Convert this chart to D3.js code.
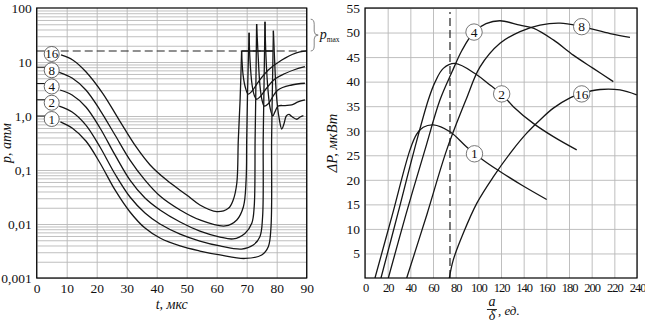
<!DOCTYPE html>
<html><head><meta charset="utf-8">
<script src="https://cdn.jsdelivr.net/npm/d3@7"></script>
<style>
body{margin:0;background:#fff}
svg text{font-family:"Liberation Serif","DejaVu Serif","Noto Serif","Times New Roman",serif !important;fill:#111}
</style>
</head><body>
<svg id="c" width="645" height="322" font-family="Liberation Serif, DejaVu Serif, serif"></svg>
<script>
// ---------- DATA ----------
// Left chart: p (атм) vs t (мкс), log scale
const tTicks = [0,10,20,30,40,50,60,70,80,90];
const pTicks = [0.001,0.01,0.1,1,10,100];
const pTickLabels = ["0,001","0,01","0,1","1,0","10","100"];
const seriesNames = ["16","8","4","2","1"];
const pLevels = [16,8,4,2,1];
const pMax = 16;
const capSegment = [68.3,78.9];     // t-range of solid p_max segment
const braceRange = [16,62];         // p range marked by brace

const fall16 = [[8.1,13.5],[12.0,10.9],[16.4,6.6],[22.0,2.63],[27.5,0.84],[33.1,0.27],[37.8,0.124],[43.3,0.065],[50.0,0.0344],[54.4,0.0225],[60.0,0.0169],[63.9,0.0195],[65.5,0.0278],[66.7,0.0568],[67.2,0.36],[67.8,1.98],[68.3,16]];
const recover16 = [[68.3,16],[68.8,5.7],[69.6,3.3],[70.5,2.55],[71.8,2.9],[73.9,4.3],[77.2,7.1],[81.7,10.9],[86.1,14.5],[90,16]];

const fall8 = [[7.5,6.44],[11.8,5.05],[16.4,3.03],[21.1,1.29],[26.1,0.445],[31.1,0.153],[36.1,0.065],[41.1,0.033],[47.8,0.0182],[54.4,0.0119],[62.8,0.0092],[66.7,0.0119],[68.9,0.0209],[69.8,0.065],[70.0,0.36],[70.3,3.03],[70.8,34.9]];
const recover8 = [[70.8,34.9],[71.1,10.9],[71.8,3.75],[72.6,2.35],[73.3,2.04],[74.4,2.25],[76.4,3.16],[79.4,4.84],[82.8,6.12],[86.1,7.26],[89.4,8.18]];

const fall4 = [[7.8,3.03],[11.8,2.45],[16.4,1.47],[21.1,0.60],[26.1,0.19],[31.1,0.065],[36.1,0.0303],[41.1,0.0182],[47.8,0.0109],[54.4,0.0074],[61.1,0.00574],[65.5,0.0053],[69.4,0.0067],[71.7,0.0103],[72.5,0.021],[72.8,0.36],[73.0,1.98],[73.3,50.6]];
const recover4 = [[73.3,50.6],[73.8,13.5],[74.4,3.75],[75.1,1.98],[75.9,1.53],[77.1,1.67],[80.4,3.03],[85.0,3.75],[89.4,4.04]];

const fall2 = [[7.5,1.53],[11.8,1.19],[16.4,0.68],[21.1,0.267],[26.1,0.0844],[31.1,0.0316],[36.1,0.016],[41.1,0.01],[47.8,0.0065],[54.4,0.00484],[61.1,0.00392],[68.3,0.00344],[72.2,0.0041],[74.4,0.00582],[75.3,0.0136],[75.5,0.36],[75.7,1.98],[76.1,55.7]];
const recover2 = [[76.1,55.7],[76.4,13.5],[77.1,3.03],[77.8,1.41],[78.7,1.0],[79.4,1.19],[80.5,1.53],[82.8,1.56],[85.0,1.6],[87.1,1.82],[89.4,1.98]];

const fall1 = [[7.9,0.78],[11.8,0.60],[16.4,0.344],[21.1,0.135],[26.1,0.0427],[31.1,0.0167],[36.1,0.0084],[41.1,0.0055],[47.8,0.00392],[54.4,0.00316],[61.1,0.00267],[69.4,0.0023],[75.0,0.00267],[77.2,0.0038],[78.1,0.0089],[78.3,0.36],[78.5,1.98],[78.9,38]];
const recover1 = [[78.9,38],[79.3,10.9],[79.9,2.45],[80.8,0.92],[81.7,0.574],[82.4,0.71],[83.2,1.0],[84.1,1.07],[85.0,0.98],[86.7,0.87],[87.8,0.96],[88.9,1.02]];

// Right chart: ΔP (мкВт) vs a/δ
const aTicks = [0,20,40,60,80,100,120,140,160,180,200,220,240];
const dpTicks = [5,10,15,20,25,30,35,40,45,50,55];
const aDashed = 75;

const dp1 = [[8.8,0],[23.8,12.6],[39.7,26.1],[45.6,29.3],[51.4,30.7],[60.3,31.2],[75.0,29.8],[89.7,26.7],[104.4,24.0],[119.1,21.7],[138.5,18.9],[160.3,16.0]];
const dp2 = [[14.1,0],[29.1,13.2],[43.5,26.1],[55.9,36.3],[61.8,39.9],[69.1,42.7],[79.4,43.7],[98.6,41.4],[110.3,39.3],[120.6,37.5],[130.9,34.9],[148.5,31.5],[166.2,28.8],[186.8,26.1]];
const dp4 = [[20.6,0],[36.2,13.0],[52.9,26.1],[66.2,36.3],[76.8,42.0],[85.6,46.4],[96.2,50.1],[106.8,51.8],[119.1,52.4],[136.8,51.5],[148.5,50.9],[166.2,48.5],[183.8,45.4],[201.4,42.7],[219.1,40.0]];
const dp8 = [[36.8,0],[54.7,13.0],[72.1,26.1],[89.1,36.3],[101.5,43.0],[119.1,47.8],[136.8,50.2],[154.4,51.5],[172.1,51.9],[191.2,51.2],[216.2,49.8],[233.8,49.0]];
const dp16 = [[74.4,0],[77.9,3.7],[86.7,9.1],[98.6,15.2],[113.2,20.6],[129.4,25.8],[142.7,29.5],[154.4,32.2],[166.2,34.6],[180.9,36.7],[191.2,37.6],[207.4,38.4],[225,38.3],[239.7,37.3]];
const rightLabelPos = [[191.2,37.5],[191.2,51.2],[96.2,50.1],[120.6,37.5],[96.6,25.3]]; // 16,8,4,2,1

// ---------- DRAW ----------
const FONT = "Liberation Serif, DejaVu Serif, serif";
const svg = d3.select("#c");
const xL = d3.scaleLinear().domain([0,90]).range([36.7,306.7]);
const yL = d3.scaleLog().domain([0.001,100]).range([278,8]);
const xR = d3.scaleLinear().domain([0,240]).range([365,637]);
const yR = d3.scaleLinear().domain([0,55]).range([278,8]);
const gridCol = "#b8b8b8", ink = "#161616";

function styleGrid(g){ g.attr("font-family",FONT); g.select(".domain").remove(); g.selectAll(".tick line").attr("stroke",gridCol).attr("stroke-width",0.9); }
function styleText(g,size){ g.attr("font-family",FONT); g.selectAll("text").attr("font-size",size).attr("fill","#111").attr("font-family",FONT); }

// ---- left panel ----
const L = svg.append("g");
const hL = yL.range()[0]-yL.range()[1], wL = xL.range()[1]-xL.range()[0];
const minor = [];
pTicks.slice(0,-1).forEach(d=>{ for(let k=1;k<10;k++) minor.push(k*d); });
L.append("g").attr("transform",`translate(${xL.range()[0]},0)`)
  .call(d3.axisLeft(yL).tickValues(minor).tickSize(-wL).tickFormat("")).call(styleGrid);
L.append("g").attr("transform",`translate(0,${yL.range()[0]})`)
  .call(d3.axisBottom(xL).tickValues(tTicks).tickSize(-hL).tickPadding(5).tickFormat(d=>d))
  .call(styleGrid).call(g=>styleText(g,13.5));
L.append("g").attr("transform",`translate(${xL.range()[0]},0)`)
  .call(d3.axisLeft(yL).tickValues(pTicks).tickSize(0).tickPadding(5).tickFormat((d,i)=>pTickLabels[i]))
  .call(g=>g.select(".domain").remove()).call(g=>styleText(g,13.5));

// clip
svg.append("clipPath").attr("id","clipL").append("rect")
  .attr("x",xL.range()[0]).attr("y",yL.range()[1]).attr("width",wL).attr("height",hL);
svg.append("clipPath").attr("id","clipR").append("rect")
  .attr("x",xR.range()[0]).attr("y",yR.range()[1]).attr("width",xR.range()[1]-xR.range()[0]).attr("height",yR.range()[0]-yR.range()[1]);

// dashed p_max line
L.append("line").attr("x1",xL(0)).attr("x2",xL(90)).attr("y1",yL(pMax)).attr("y2",yL(pMax))
  .attr("stroke","#222").attr("stroke-width",1.2).attr("stroke-dasharray","8,4");
L.append("line").attr("x1",xL(capSegment[0])).attr("x2",xL(capSegment[1])).attr("y1",yL(pMax)).attr("y2",yL(pMax))
  .attr("stroke",ink).attr("stroke-width",1.3);

const lineL = d3.line().x(d=>xL(d[0])).y(d=>yL(d[1])).curve(d3.curveCatmullRom.alpha(0.5));
const curvesL = [[fall16,recover16],[fall8,recover8],[fall4,recover4],[fall2,recover2],[fall1,recover1]];
const cg = L.append("g").attr("clip-path","url(#clipL)");
curvesL.forEach(([a,b])=>{
  cg.append("path").attr("d",lineL(a)).attr("fill","none").attr("stroke",ink).attr("stroke-width",1.3);
  cg.append("path").attr("d",lineL(b)).attr("fill","none").attr("stroke",ink).attr("stroke-width",1.3);
});
L.append("rect").attr("x",xL.range()[0]).attr("y",yL.range()[1]).attr("width",wL).attr("height",hL)
  .attr("fill","none").attr("stroke","#000").attr("stroke-width",1.2);

// left labels
pLevels.forEach((v,i)=>{
  const cx = xL(5), cy = yL(v)+3;
  if(v!==pMax) L.append("line").attr("x1",xL(0)).attr("x2",cx-6).attr("y1",yL(v)).attr("y2",yL(v)).attr("stroke",ink).attr("stroke-width",1);
  L.append("circle").attr("cx",cx).attr("cy",cy).attr("r",7.5).attr("fill","#fff").attr("stroke","#444").attr("stroke-width",0.8);
  L.append("text").attr("x",cx).attr("y",cy+4.5).attr("text-anchor","middle")
    .attr("font-family",FONT).attr("font-size",13).text(seriesNames[i]);
});

// brace + p_max label
{
  const x0 = xL(90)+4, x1 = x0+3.5, x2 = x0+7.5;
  const y1 = yL(braceRange[1]), y2 = yL(braceRange[0]), ym = (y1+y2)/2;
  L.append("path").attr("d",`M${x0},${y1} Q${x1},${y1} ${x1},${y1+5} L${x1},${ym-4} Q${x1},${ym} ${x2},${ym} Q${x1},${ym} ${x1},${ym+4} L${x1},${y2-5} Q${x1},${y2} ${x0},${y2}`)
    .attr("fill","none").attr("stroke","#777").attr("stroke-width",0.9);
  const t = L.append("text").attr("x",x2+1.5).attr("y",ym+3.5).attr("font-size",14).attr("font-family",FONT);
  t.append("tspan").attr("font-style","italic").text("p");
  t.append("tspan").attr("font-size",7.5).attr("dy",3).text("max");
}

// axis titles left
L.append("text").attr("x",xL(45)).attr("y",309).attr("text-anchor","middle").attr("font-family",FONT).attr("font-size",14).attr("font-style","italic").text("t, мкс");
L.append("text").attr("transform",`translate(11,${(yL.range()[0]+yL.range()[1])/2}) rotate(-90)`).attr("text-anchor","middle")
  .attr("font-family",FONT).attr("font-size",14).attr("font-style","italic").text("p, атм");

// ---- right panel ----
const R = svg.append("g");
const hR = yR.range()[0]-yR.range()[1], wR = xR.range()[1]-xR.range()[0];
R.append("g").attr("transform",`translate(0,${yR.range()[0]})`)
  .call(d3.axisBottom(xR).tickValues(aTicks).tickSize(-hR).tickPadding(5).tickFormat(d=>d))
  .call(styleGrid).call(g=>styleText(g,12.5)).call(g=>g.selectAll("text").attr("letter-spacing","-1px"));
R.append("g").attr("transform",`translate(${xR.range()[0]},0)`)
  .call(d3.axisLeft(yR).tickValues(dpTicks).tickSize(-wR).tickPadding(5).tickFormat(d=>d))
  .call(styleGrid).call(g=>styleText(g,13.5));

R.append("line").attr("x1",xR(aDashed)).attr("x2",xR(aDashed)).attr("y1",yR(0)).attr("y2",yR(54.2))
  .attr("stroke","#222").attr("stroke-width",1.2).attr("stroke-dasharray","8,4");

const lineR = d3.line().x(d=>xR(d[0])).y(d=>yR(d[1])).curve(d3.curveCatmullRom.alpha(0.5));
const cgR = R.append("g").attr("clip-path","url(#clipR)");
[dp16,dp8,dp4,dp2,dp1].forEach(s=>{
  cgR.append("path").attr("d",lineR(s)).attr("fill","none").attr("stroke",ink).attr("stroke-width",1.3);
});
R.append("rect").attr("x",xR.range()[0]).attr("y",yR.range()[1]).attr("width",wR).attr("height",hR)
  .attr("fill","none").attr("stroke","#000").attr("stroke-width",1.2);

rightLabelPos.forEach((p,i)=>{
  const cx = xR(p[0]), cy = yR(p[1]);
  R.append("circle").attr("cx",cx).attr("cy",cy).attr("r",8.2).attr("fill","#fff").attr("stroke","#555").attr("stroke-width",0.8);
  R.append("text").attr("x",cx).attr("y",cy+4.6).attr("text-anchor","middle")
    .attr("font-family",FONT).attr("font-size",13.5).text(seriesNames[i]);
});

// right axis titles
R.append("text").attr("transform",`translate(337,${(yR.range()[0]+yR.range()[1])/2}) rotate(-90)`).attr("text-anchor","middle")
  .attr("font-family",FONT).attr("font-size",14.5).attr("font-style","italic").text("ΔP, мкВт");
{
  const fx = xR(112);
  R.append("text").attr("x",fx).attr("y",306).attr("text-anchor","middle").attr("font-family",FONT).attr("font-size",14).attr("font-style","italic").text("a");
  R.append("line").attr("x1",fx-5).attr("x2",fx+5).attr("y1",309.5).attr("y2",309.5).attr("stroke","#111").attr("stroke-width",0.9);
  R.append("text").attr("x",fx).attr("y",320).attr("text-anchor","middle").attr("font-family",FONT).attr("font-size",14).attr("font-style","italic").text("δ");
  R.append("text").attr("x",fx+6).attr("y",315).attr("font-family",FONT).attr("font-size",13).attr("font-style","italic").text(", ед.");
}
</script>
</body></html>
